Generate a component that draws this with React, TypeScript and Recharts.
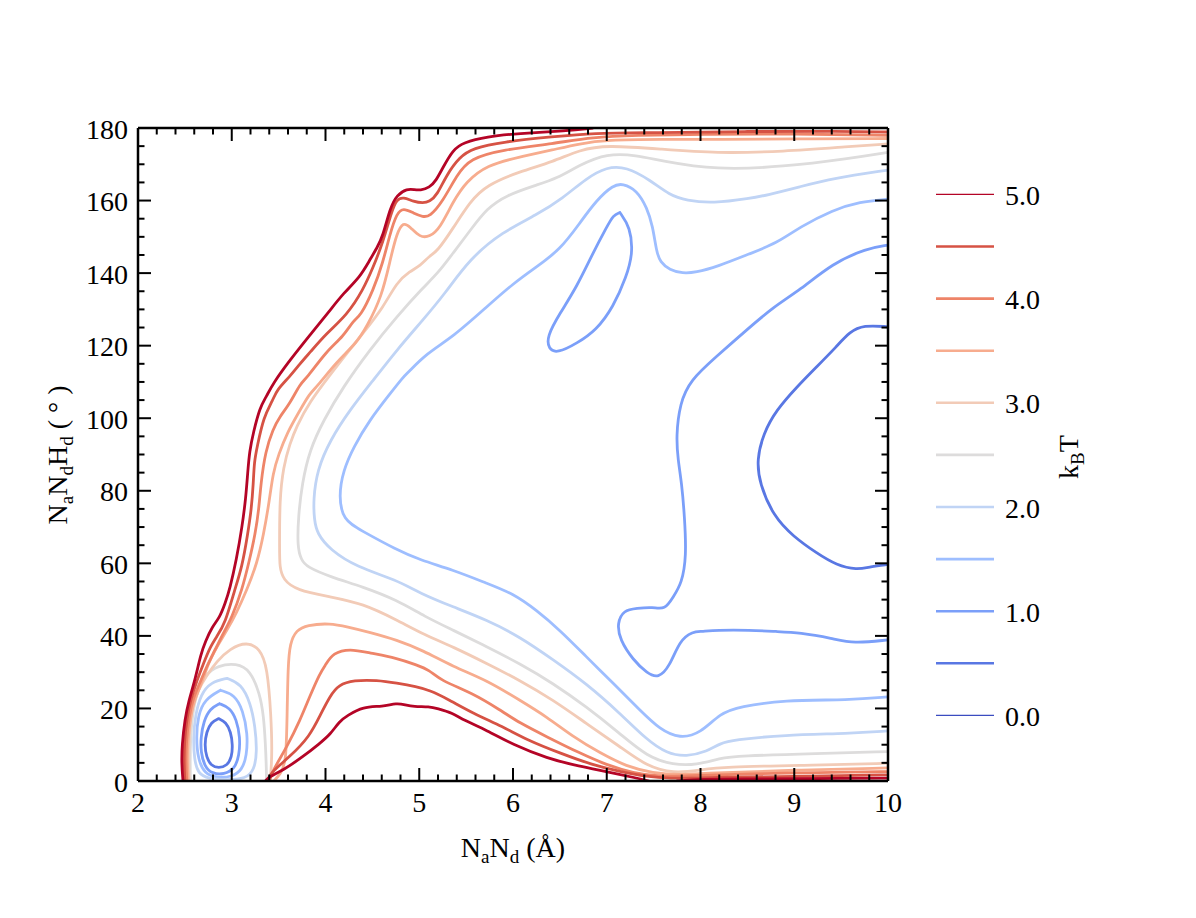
import React from 'react';
import { LineChart, Line, XAxis, YAxis } from 'recharts';

type P = [number, number];

// ---- level definitions ----
const LEVELS = [0.0, 0.5, 1.0, 1.5, 2.0, 2.5, 3.0, 3.5, 4.0, 4.5, 5.0];
const LEVEL_COLORS = ['#3b4cc0', '#5977e3', '#7b9ff9', '#9ebeff', '#c0d4f5', '#dddcdc', '#f2cbb7', '#f7ac8e', '#ee8468', '#d65244', '#b40426'];
const LEGEND_LABELS = ['0.0', '', '1.0', '', '2.0', '', '3.0', '', '4.0', '', '5.0'];

// ---- ticks ----
const X_MAJOR = [2, 3, 4, 5, 6, 7, 8, 9, 10];
const Y_MAJOR = [0, 20, 40, 60, 80, 100, 120, 140, 160, 180];
const X_MINOR: number[] = [];
for (let i = 0; i < 40; i++) { if (i % 5 !== 0) X_MINOR.push(+(2 + i * 0.2).toFixed(2)); }
const Y_MINOR: number[] = [];
for (let v = 5; v < 180; v += 5) { if (v % 20 !== 0) Y_MINOR.push(v); }

// ---- contour lines (x in Å, y in degrees) ----
const C05_ring: P[] = [[2.86,17.2],[2.94,16.2],[2.99,13.5],[3.01,10],[3.0,6.5],[2.95,4.2],[2.86,3.5],[2.78,4.2],[2.73,6.5],[2.71,10],[2.73,13.5],[2.78,16.2],[2.86,17.2]];
const C05_right: P[] = [[10,125.2],[9.74,125.7],[9.59,123.8],[9.45,119.7],[9.24,114.2],[9.03,108.7],[8.81,102.3],[8.67,95.8],[8.60,88.5],[8.63,82],[8.78,72.9],[8.99,67.4],[9.24,62.8],[9.45,59.5],[9.67,58.2],[9.81,59.1],[10,59.7]];

const C10_ring: P[] = [[2.87,21.3],[2.98,20.2],[3.05,17],[3.09,12],[3.08,7],[3.03,3.3],[2.92,1.8],[2.79,2],[2.71,4],[2.67,8],[2.67,12],[2.70,16.5],[2.77,20],[2.87,21.3]];
const C10_island: P[] = [[7.14,156.7],[7.25,152.7],[7.28,145.5],[7.21,139],[7.07,130.7],[6.89,124.3],[6.68,120.6],[6.47,117.9],[6.38,119],[6.36,122.5],[6.50,128.9],[6.68,136.2],[6.85,145.4],[7.0,152.7],[7.07,156],[7.14,156.7]];
const C10_right: P[] = [[10,147.7],[9.77,146.8],[9.41,142.7],[9.06,135.3],[8.78,130.7],[8.49,124.3],[8.17,117],[7.89,110.5],[7.78,104.1],[7.74,95],[7.76,88.5],[7.80,82],[7.83,72.9],[7.85,61.8],[7.80,54.5],[7.71,50.8],[7.62,47.1],[7.49,48],[7.32,47.6],[7.18,47.1],[7.11,43.5],[7.14,38.9],[7.28,33.4],[7.43,29.7],[7.55,28.3],[7.67,31.5],[7.78,38.9],[7.92,41.2],[8.0,41.2],[8.17,41.6],[8.53,41.6],[8.81,41.2],[9.06,40.9],[9.41,39.3],[9.63,37.9],[10,38.9]];

const C15_ring: P[] = [[2.88,25],[3.03,23.8],[3.12,19.5],[3.17,13],[3.16,7],[3.11,3],[3.0,1.1],[2.84,0.9],[2.71,2],[2.64,6],[2.62,12],[2.64,18],[2.71,22.5],[2.88,25]];
const C15_big: P[] = [[10,160.4],[9.70,159.7],[9.41,157.4],[9.06,152.7],[8.81,148.2],[8.53,145.4],[8.17,141.7],[7.95,140.2],[7.81,139.9],[7.67,140.9],[7.57,143],[7.53,146],[7.49,153],[7.43,158],[7.32,162.9],[7.17,164.7],[7.07,164.3],[6.89,160.1],[6.71,153.7],[6.50,146.4],[6.25,141.7],[6.0,137.1],[5.72,130.7],[5.36,122.4],[5.08,117.9],[4.87,112.3],[4.83,111.4],[4.69,106.8],[4.47,99.5],[4.30,92.1],[4.19,85.7],[4.14,78.4],[4.19,71.9],[4.37,69.2],[4.76,63.7],[5.01,60.9],[5.36,58.2],[5.72,54.5],[6.0,51.7],[6.25,47.1],[6.50,41.6],[6.78,34.3],[7.07,26.9],[7.35,19.6],[7.57,14.1],[7.78,11.7],[8.0,13.1],[8.21,18.7],[8.42,20.5],[8.88,22.3],[9.59,22.3],[10,23.2]];

const C20_ring: P[] = [[2.95,28.3],[3.1,26.8],[3.2,21.5],[3.25,15],[3.27,8],[3.24,3],[3.15,0.6],[2.95,0.3],[2.75,0.6],[2.64,2],[2.60,6],[2.59,12],[2.61,18],[2.67,24],[2.78,27.3],[2.95,28.3]];
const C20_big: P[] = [[10,168.4],[9.41,166.1],[9.06,163.8],[8.71,161.5],[8.53,160.6],[8.13,159.2],[7.85,160],[7.67,161.5],[7.46,165.7],[7.21,169.3],[7.0,169.3],[6.78,166.1],[6.53,160.6],[6.25,156],[5.89,151.4],[5.54,144],[5.27,134.2],[5.04,127.1],[4.76,118.8],[4.51,110.5],[4.26,102.3],[4.05,94],[3.91,85.7],[3.87,77.5],[3.88,72],[3.91,68.2],[4.05,63.7],[4.33,59],[4.76,55.4],[5.01,51.7],[5.36,48],[5.72,44.4],[6.07,39.8],[6.43,33.4],[6.78,26.9],[7.14,18.7],[7.43,11.3],[7.64,7.6],[7.85,6.7],[8.07,8.1],[8.21,10.4],[8.35,11.3],[8.88,12.7],[9.59,13.1],[10,13.8]];

const C25_ring: P[] = [[2.56,0],[2.555,5],[2.56,12],[2.58,18],[2.62,24],[2.72,29.5],[2.85,31.8],[3.05,32.5],[3.2,30.5],[3.30,24],[3.34,18],[3.36,10],[3.37,3],[3.37,0]];
const C25_big: P[] = [[10,173.3],[9.59,171.6],[8.88,169.3],[8.17,168.4],[7.57,171.0],[7.32,172.5],[7.0,173],[6.71,169.8],[6.47,166.1],[6.25,164.3],[5.93,161.5],[5.72,157.8],[5.55,152],[5.36,145.5],[5.2,140],[5.04,136],[4.76,128],[4.47,118.8],[4.19,108.7],[3.98,99.5],[3.83,91.2],[3.75,82],[3.71,72.9],[3.70,64.6],[3.74,61],[3.80,59],[4.05,56.3],[4.40,53.5],[4.76,49.9],[5.06,45.3],[5.36,41.6],[5.72,37],[6.07,32.4],[6.43,26.9],[6.78,20.5],[7.14,13.1],[7.43,6.7],[7.71,4.4],[7.96,4.4],[8.21,6.3],[8.4,6.9],[9.24,7.6],[10,8.1]];

const C30_ring: P[] = [[2.545,0],[2.54,6],[2.545,12],[2.57,20],[2.64,25],[2.73,29],[2.84,33],[2.98,36.5],[3.16,38.4],[3.30,36.5],[3.38,31.5],[3.42,17.7],[3.43,8.5],[3.42,3],[3.41,0]];
const C30_big: P[] = [[10,175.6],[9.59,174.9],[8.88,173.5],[8.17,173],[7.57,174.2],[7.0,175.3],[6.71,174],[6.43,170.7],[6.07,168],[5.72,164.3],[5.54,159.7],[5.36,152.3],[5.19,145.9],[5.11,144.8],[5.01,142],[4.90,140.5],[4.76,137.5],[4.62,130.7],[4.40,123.4],[4.23,118],[4.05,112],[3.83,104.5],[3.69,97.7],[3.62,93],[3.55,86.6],[3.51,77.5],[3.51,64],[3.51,59],[3.55,55.4],[3.69,52.6],[4.05,50.8],[4.40,48.9],[4.76,44.4],[5.06,40.2],[5.36,37],[5.72,32.4],[6.07,27.8],[6.43,22.3],[6.78,15.9],[7.14,9.5],[7.43,4],[7.71,2.1],[8.0,3.0],[8.21,3.9],[9.24,4.4],[10,4.9]];

const C35_wall: P[] = [[2.535,0],[2.525,5],[2.53,11],[2.56,18],[2.61,23],[2.68,27],[2.75,32.5],[2.84,37],[2.95,41.6],[3.05,46.3],[3.16,52.6],[3.27,60],[3.34,68],[3.40,77],[3.44,85],[3.50,90],[3.59,96],[3.73,102.3],[3.83,106.8],[3.91,108.7],[4.12,115.6],[4.33,120.7],[4.44,125.2],[4.60,133.5],[4.69,143.6],[4.76,151],[4.83,154.1],[4.90,152.8],[5.01,149.8],[5.11,150],[5.22,152.3],[5.36,159.7],[5.5,165.2],[5.72,169.8],[6.07,172],[6.43,174],[6.71,175.7],[7.0,176.7],[7.57,176.9],[8.2,176.8],[9.0,177.0],[10,177.1]];
const C35_bottom: P[] = [[3.45,0],[3.52,2],[3.58,5],[3.59,17.7],[3.60,31.5],[3.62,38],[3.69,41.6],[3.80,43],[4.05,43.5],[4.23,42.5],[4.47,41],[4.76,38.9],[5.04,36],[5.36,31.5],[5.72,27.8],[6.07,22.3],[6.36,17.7],[6.64,12.2],[6.93,7.7],[7.21,4],[7.49,2.2],[7.78,1.6],[8.07,2.2],[9.0,3.0],[10,3.6]];

const C40_wall: P[] = [[2.52,0],[2.51,5],[2.515,11],[2.545,18],[2.59,23],[2.66,27],[2.73,31.5],[2.82,36],[2.91,40.8],[3.0,45],[3.11,52.6],[3.19,61],[3.25,68],[3.29,75],[3.31,82],[3.36,91],[3.44,97],[3.51,100.4],[3.62,104],[3.73,109.6],[3.80,111],[4.01,118.5],[4.19,122.5],[4.30,127.1],[4.37,128],[4.51,135.3],[4.61,142.7],[4.69,151],[4.76,156.5],[4.83,158],[4.94,156.5],[5.04,155.5],[5.11,155.5],[5.25,159.7],[5.40,167],[5.54,171.6],[5.89,174],[6.43,175.7],[6.85,177.5],[7.3,178],[8.0,178.3],[9.0,178.4],[10,178.0]];
const C40_bottom: P[] = [[3.40,0],[3.44,3],[3.59,9.5],[3.73,16.8],[3.83,23.2],[3.94,29.7],[4.0,32],[4.08,35.3],[4.26,36.5],[4.47,35.3],[4.76,33.9],[4.97,32],[5.11,30.6],[5.22,27.8],[5.57,24.2],[5.86,19.6],[6.07,16],[6.36,12.2],[6.71,7.7],[7.0,4.4],[7.28,2.2],[7.57,1.2],[7.85,1.4],[8.5,2.0],[9.5,2.4],[10,2.6]];

const C45_wall: P[] = [[2.50,0],[2.49,5],[2.495,11],[2.52,17],[2.56,22.3],[2.63,27.8],[2.70,32.5],[2.77,37],[2.84,39.8],[2.93,43.5],[3.03,52.6],[3.11,59],[3.17,68],[3.21,75],[3.23,82],[3.24,88],[3.27,92],[3.34,100.4],[3.44,105],[3.48,107.8],[3.62,111.5],[3.73,115.1],[3.83,118],[4.01,123.4],[4.23,128.5],[4.40,135.3],[4.51,141.7],[4.61,148.3],[4.71,157.4],[4.76,160.3],[4.83,161],[4.94,159.7],[5.04,159.3],[5.11,159.7],[5.19,161.5],[5.29,167],[5.43,172],[5.57,174.4],[5.89,176.2],[6.43,177.6],[6.85,178.6],[7.49,178.7],[8.5,179.1],[9.5,179.1],[10,178.9]];
const C45_bottom: P[] = [[3.38,0],[3.41,2.2],[3.62,6.7],[3.83,12.2],[3.95,18.5],[4.05,23.5],[4.14,26.5],[4.30,27.8],[4.55,27.8],[4.76,27],[4.97,26],[5.11,25],[5.29,22.8],[5.57,18.7],[5.89,15],[6.15,11.3],[6.50,7.7],[6.85,4.4],[7.14,2.6],[7.43,1.2],[7.67,0.7],[8.0,0.9],[8.5,1.1],[9.0,1.3],[9.5,1.5],[10,1.7]];

const C50_wall: P[] = [[2.48,0],[2.465,5],[2.47,10],[2.50,17],[2.54,22],[2.61,28],[2.67,35],[2.72,38.5],[2.79,42.5],[2.87,45],[2.93,49],[2.98,53],[3.05,61],[3.11,70],[3.15,78],[3.17,85],[3.19,91],[3.23,96],[3.30,103],[3.37,106],[3.44,109.6],[3.62,116],[3.83,122.8],[4.05,129.8],[4.19,134.4],[4.37,139],[4.47,143.5],[4.55,147],[4.61,150],[4.69,158],[4.76,161.5],[4.87,163.3],[4.95,163],[5.01,162.8],[5.11,163.6],[5.18,165.5],[5.25,169],[5.36,174],[5.47,176],[5.72,177.6],[6.05,178.5],[6.57,179.2],[6.85,180]];
const C50_bottom: P[] = [[3.36,0],[3.40,1.2],[3.55,3],[3.76,6.7],[3.94,10.4],[4.05,12.8],[4.15,16.5],[4.23,18],[4.40,20.5],[4.61,20.5],[4.76,21.5],[4.85,21],[4.94,20.5],[5.11,20.5],[5.19,20],[5.36,18.7],[5.47,16.8],[5.72,14],[6.0,10],[6.36,6.3],[6.71,4],[7.0,2.6],[7.32,0.8],[7.45,0]];
const C50_bottomRight: P[] = [[7.75,0],[8.0,0.5],[8.5,0.6],[9.0,0.6],[9.5,0.7],[10,0.8]];

const CONTOUR_TABLE: { level: number; pts: P[] }[] = [
  { level: 0.5, pts: C05_ring }, { level: 0.5, pts: C05_right },
  { level: 1.0, pts: C10_ring }, { level: 1.0, pts: C10_island }, { level: 1.0, pts: C10_right },
  { level: 1.5, pts: C15_ring }, { level: 1.5, pts: C15_big },
  { level: 2.0, pts: C20_ring }, { level: 2.0, pts: C20_big },
  { level: 2.5, pts: C25_ring }, { level: 2.5, pts: C25_big },
  { level: 3.0, pts: C30_ring }, { level: 3.0, pts: C30_big },
  { level: 3.5, pts: C35_wall }, { level: 3.5, pts: C35_bottom },
  { level: 4.0, pts: C40_wall }, { level: 4.0, pts: C40_bottom },
  { level: 4.5, pts: C45_wall }, { level: 4.5, pts: C45_bottom },
  { level: 5.0, pts: C50_wall }, { level: 5.0, pts: C50_bottom }, { level: 5.0, pts: C50_bottomRight },
];

const CONTOURS = CONTOUR_TABLE.map((c) => ({
  color: LEVEL_COLORS[LEVELS.indexOf(c.level)],
  data: c.pts.map(([x, y]) => ({ x, y })),
}));

const AXIS_FRAME = [{ x: 2, y: 0 }, { x: 10, y: 180 }];

const FONT = 'Liberation Serif, Tinos, Times New Roman, DejaVu Serif, serif';
const TXT: React.CSSProperties = { fontFamily: FONT, fontSize: 28, fill: '#000' };
const SUB: React.CSSProperties = { fontFamily: FONT, fontSize: 19 };
const MAJOR = 13;
const MINOR = 6.5;
const TW = 2;

const W = 1180;
const H = 900;
// each of the 8 axes is 1px thick; plot area = (130,120)-(880,773) in wrapper coords
const M = { top: 118, right: 298, bottom: 125, left: 128 };

const BottomMajor = (p: any) => (
  <g>
    <line x1={p.x} x2={p.x} y1={p.y} y2={p.y - MAJOR} stroke="#000" strokeWidth={TW} />
    <text x={p.x} y={p.y + 21} textAnchor="middle" dominantBaseline="central" style={TXT}>{p.payload.value}</text>
  </g>
);
const BottomMinor = (p: any) => <line x1={p.x} x2={p.x} y1={p.y - 1} y2={p.y - 1 - MINOR} stroke="#000" strokeWidth={TW} />;
const TopMajor = (p: any) => <line x1={p.x} x2={p.x} y1={p.y} y2={p.y + MAJOR} stroke="#000" strokeWidth={TW} />;
const TopMinor = (p: any) => <line x1={p.x} x2={p.x} y1={p.y + 1} y2={p.y + 1 + MINOR} stroke="#000" strokeWidth={TW} />;
const LeftMajor = (p: any) => (
  <g>
    <line x1={p.x} x2={p.x + MAJOR} y1={p.y} y2={p.y} stroke="#000" strokeWidth={TW} />
    <text x={p.x - 10} y={p.y + 1} textAnchor="end" dominantBaseline="central" style={TXT}>{p.payload.value}</text>
  </g>
);
const LeftMinor = (p: any) => <line x1={p.x + 1} x2={p.x + 1 + MINOR} y1={p.y} y2={p.y} stroke="#000" strokeWidth={TW} />;
const RightMajor = (p: any) => <line x1={p.x} x2={p.x - MAJOR} y1={p.y} y2={p.y} stroke="#000" strokeWidth={TW} />;
const RightMinor = (p: any) => <line x1={p.x - 1} x2={p.x - 1 - MINOR} y1={p.y} y2={p.y} stroke="#000" strokeWidth={TW} />;

const frameLine = { stroke: '#000', strokeWidth: 2.5 };

export default function App() {
  const legendTop = 186.4;
  const legendStep = 52.1;
  return (
    <div style={{ position: 'relative', width: W, height: H, fontFamily: FONT }}>
      <LineChart width={W} height={H} margin={M} style={{ fontFamily: FONT }}>
        <XAxis xAxisId="b" type="number" dataKey="x" domain={[2, 10]} allowDataOverflow ticks={X_MAJOR} interval={0} orientation="bottom" height={1} tickSize={0} tickMargin={0} axisLine={frameLine} tickLine={false} tick={BottomMajor} />
        <XAxis xAxisId="bm" type="number" dataKey="x" domain={[2, 10]} allowDataOverflow ticks={X_MINOR} interval={0} orientation="bottom" height={1} tickSize={0} tickMargin={0} axisLine={false} tickLine={false} tick={BottomMinor} />
        <XAxis xAxisId="t" type="number" dataKey="x" domain={[2, 10]} allowDataOverflow ticks={X_MAJOR} interval={0} orientation="top" height={1} tickSize={0} tickMargin={0} axisLine={frameLine} tickLine={false} tick={TopMajor} />
        <XAxis xAxisId="tm" type="number" dataKey="x" domain={[2, 10]} allowDataOverflow ticks={X_MINOR} interval={0} orientation="top" height={1} tickSize={0} tickMargin={0} axisLine={false} tickLine={false} tick={TopMinor} />
        <YAxis yAxisId="l" type="number" dataKey="y" domain={[0, 180]} allowDataOverflow ticks={Y_MAJOR} interval={0} orientation="left" width={1} tickSize={0} tickMargin={0} axisLine={frameLine} tickLine={false} tick={LeftMajor} />
        <YAxis yAxisId="lm" type="number" dataKey="y" domain={[0, 180]} allowDataOverflow ticks={Y_MINOR} interval={0} orientation="left" width={1} tickSize={0} tickMargin={0} axisLine={false} tickLine={false} tick={LeftMinor} />
        <YAxis yAxisId="r" type="number" dataKey="y" domain={[0, 180]} allowDataOverflow ticks={Y_MAJOR} interval={0} orientation="right" width={1} tickSize={0} tickMargin={0} axisLine={frameLine} tickLine={false} tick={RightMajor} />
        <YAxis yAxisId="rm" type="number" dataKey="y" domain={[0, 180]} allowDataOverflow ticks={Y_MINOR} interval={0} orientation="right" width={1} tickSize={0} tickMargin={0} axisLine={false} tickLine={false} tick={RightMinor} />

        <Line xAxisId="bm" yAxisId="lm" data={AXIS_FRAME} dataKey="y" stroke="none" dot={false} activeDot={false} isAnimationActive={false} legendType="none" />
        <Line xAxisId="t" yAxisId="r" data={AXIS_FRAME} dataKey="y" stroke="none" dot={false} activeDot={false} isAnimationActive={false} legendType="none" />
        <Line xAxisId="tm" yAxisId="rm" data={AXIS_FRAME} dataKey="y" stroke="none" dot={false} activeDot={false} isAnimationActive={false} legendType="none" />

        {CONTOURS.map((c, i) => (
          <Line
            key={i}
            xAxisId="b"
            yAxisId="l"
            data={c.data}
            dataKey="y"
            type="basis"
            stroke={c.color}
            strokeWidth={2.8}
            strokeLinejoin="round"
            strokeLinecap="round"
            dot={false}
            activeDot={false}
            isAnimationActive={false}
            legendType="none"
          />
        ))}
      </LineChart>

      <svg width={W} height={H} style={{ position: 'absolute', left: 0, top: 0, pointerEvents: 'none', fontFamily: FONT }}>
        <text x={505} y={849} textAnchor="middle" style={TXT}>
          N<tspan style={SUB} dy={6}>a</tspan><tspan dy={-6}>N</tspan><tspan style={SUB} dy={6}>d</tspan><tspan dy={-6}> (Å)</tspan>
        </text>
        <text x={59} y={447} transform="rotate(-90 59 447)" textAnchor="middle" style={TXT}>
          N<tspan style={SUB} dy={6}>a</tspan><tspan dy={-6}>N</tspan><tspan style={SUB} dy={6}>d</tspan><tspan dy={-6}>H</tspan><tspan style={SUB} dy={6}>d</tspan><tspan dy={-6}> ( ° )</tspan>
        </text>

        {LEVELS.slice().reverse().map((lv, i) => {
          const idx = LEVELS.length - 1 - i;
          const y = legendTop + i * legendStep;
          const thin = lv === 0 || lv === 5;
          return (
            <g key={lv}>
              <line x1={928} x2={986} y1={y} y2={y} stroke={LEVEL_COLORS[idx]} strokeWidth={thin ? 1.3 : 2.6} />
              {LEGEND_LABELS[idx] && (
                <text x={997} y={y + 1} dominantBaseline="central" style={TXT}>{LEGEND_LABELS[idx]}</text>
              )}
            </g>
          );
        })}
        <text x={1070} y={449} transform="rotate(-90 1070 449)" textAnchor="middle" style={TXT}>
          k<tspan style={SUB} dy={6}>B</tspan><tspan dy={-6}>T</tspan>
        </text>
      </svg>
    </div>
  );
}
